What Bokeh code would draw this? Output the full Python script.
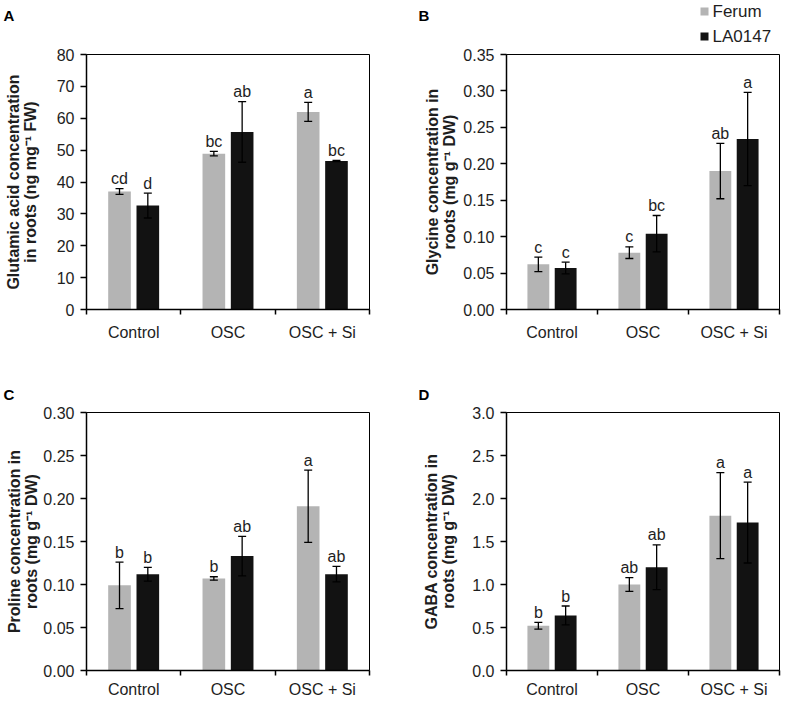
import numpy as np
from bokeh.plotting import figure
from bokeh.models import (ColumnDataSource, FixedTicker, Whisker, TeeHead, Label,
                          NumeralTickFormatter, Range1d)
from bokeh.layouts import row, column
from bokeh.embed import file_html
from bokeh.resources import INLINE
from bokeh.core.properties import value

# ---------------- data ----------------
categories = ["Control", "OSC", "OSC + Si"]
series = ["Ferum", "LA0147"]

# A: glutamic acid (ng mg-1 FW)
glu_ferum = [37.0, 48.9, 62.0]
glu_ferum_err = [0.9, 0.7, 3.0]
glu_la = [32.6, 55.7, 46.6]
glu_la_err = [3.9, 9.5, 0.2]
glu_ferum_letters = ["cd", "bc", "a"]
glu_la_letters = ["d", "ab", "bc"]
glu_ticks = [0, 10, 20, 30, 40, 50, 60, 70, 80]

# B: glycine (mg g-1 DW)
gly_ferum = [0.062, 0.078, 0.190]
gly_ferum_err = [0.010, 0.008, 0.038]
gly_la = [0.057, 0.104, 0.234]
gly_la_err = [0.008, 0.025, 0.064]
gly_ferum_letters = ["c", "c", "ab"]
gly_la_letters = ["c", "bc", "a"]
gly_ticks = [0.00, 0.05, 0.10, 0.15, 0.20, 0.25, 0.30, 0.35]

# C: proline (mg g-1 DW)
pro_ferum = [0.099, 0.107, 0.191]
pro_ferum_err = [0.027, 0.002, 0.042]
pro_la = [0.112, 0.133, 0.112]
pro_la_err = [0.008, 0.023, 0.009]
pro_ferum_letters = ["b", "b", "a"]
pro_la_letters = ["b", "ab", "ab"]
pro_ticks = [0.00, 0.05, 0.10, 0.15, 0.20, 0.25, 0.30]

# D: GABA (mg g-1 DW)
gaba_ferum = [0.52, 1.00, 1.80]
gaba_ferum_err = [0.04, 0.08, 0.50]
gaba_la = [0.64, 1.20, 1.72]
gaba_la_err = [0.11, 0.26, 0.47]
gaba_ferum_letters = ["b", "ab", "a"]
gaba_la_letters = ["b", "ab", "a"]
gaba_ticks = [0.0, 0.5, 1.0, 1.5, 2.0, 2.5, 3.0]

panel_letters = ["A", "B", "C", "D"]

# ---------------- style ----------------
FONT = "Liberation Sans"
GREY = "#b4b4b4"
DARK = "#121212"
TXT = "#1e1e1e"
BAR_W = 0.24
OFFSETS = [-0.15, 0.15]
TOTAL_W = 786


def make_panel(ylabel, ticks, fmt, data, width, height, bl, br, bt, bb, label_standoff,
               x_standoff=9):
    p = figure(width=width, height=height, output_backend="svg", toolbar_location=None,
               x_range=Range1d(0, len(categories)), y_range=Range1d(ticks[0], ticks[-1]),
               min_border_left=bl, min_border_right=br, min_border_top=bt,
               min_border_bottom=bb)
    p.grid.visible = False
    p.outline_line_color = "black"
    p.outline_line_width = 1

    centers = np.arange(len(categories)) + 0.5
    for (vals, errs, labs), off, color in zip(data, OFFSETS, [GREY, DARK]):
        vals = np.array(vals)
        errs = np.array(errs)
        src = ColumnDataSource(dict(x=centers + off, top=vals, upper=vals + errs,
                                    lower=vals - errs, lab=labs))
        p.vbar(x="x", top="top", width=BAR_W, source=src, fill_color=color, line_color=None)
        w = Whisker(source=src, base="x", upper="upper", lower="lower",
                    line_color="black", line_width=1.3, level="overlay",
                    upper_head=TeeHead(size=8, line_color="black", line_width=1.3),
                    lower_head=TeeHead(size=8, line_color="black", line_width=1.3))
        p.add_layout(w)
        p.text(x="x", y="upper", text="lab", source=src, text_align="center",
               text_baseline="alphabetic", y_offset=-10, text_font=value(FONT),
               text_font_size="16px", text_color=TXT)

    # x axis: ticks at category boundaries, labels at centers
    xa = p.xaxis[0]
    xa.ticker = FixedTicker(ticks=list(centers), minor_ticks=list(range(len(categories) + 1)))
    xa.major_label_overrides = {float(c): cat for c, cat in zip(centers, categories)}
    xa.axis_label = None
    xa.axis_label_standoff = 0
    xa.major_tick_out = 0
    xa.major_tick_in = 0
    xa.minor_tick_out = 5
    xa.minor_tick_in = 0
    xa.minor_tick_line_color = "black"
    xa.minor_tick_line_width = 1.5
    xa.axis_line_width = 1.5
    xa.axis_line_color = "black"
    xa.major_label_standoff = x_standoff
    xa.major_label_text_font = FONT
    xa.major_label_text_font_size = "16px"
    xa.major_label_text_color = TXT

    ya = p.yaxis[0]
    ya.ticker = FixedTicker(ticks=ticks, minor_ticks=[])
    ya.formatter = NumeralTickFormatter(format=fmt)
    ya.major_tick_out = 6
    ya.major_tick_in = 0
    ya.minor_tick_out = 0
    ya.minor_tick_in = 0
    ya.major_tick_line_color = "black"
    ya.major_tick_line_width = 1.5
    ya.axis_line_width = 1.5
    ya.axis_line_color = "black"
    ya.major_label_standoff = 6
    ya.major_label_text_font = FONT
    ya.major_label_text_font_size = "16px"
    ya.major_label_text_color = TXT
    ya.axis_label = ylabel
    ya.axis_label_text_font = FONT
    ya.axis_label_text_font_size = "16px"
    ya.axis_label_text_font_style = "bold"
    ya.axis_label_text_color = TXT
    ya.axis_label_text_line_height = 1.0
    ya.axis_label_standoff = label_standoff
    return p


def make_header(height, letters, letter_x, baseline_from_bottom, legend=False):
    # pixel-space strip above a row of panels, carrying panel letters (and the legend)
    h = figure(width=TOTAL_W, height=height, output_backend="svg", toolbar_location=None,
               x_range=Range1d(0, TOTAL_W), y_range=Range1d(0, height),
               x_axis_type=None, y_axis_type=None, min_border=0,
               min_border_left=0, min_border_right=0, min_border_top=0, min_border_bottom=0)
    h.outline_line_color = None
    h.grid.visible = False
    for lt, lx in zip(letters, letter_x):
        h.add_layout(Label(x=lx, y=baseline_from_bottom, text=lt, text_font=FONT,
                           text_font_size="15px", text_font_style="bold",
                           text_baseline="alphabetic", text_color="black"))
    if legend:
        key_x = 704
        key_y = [height - 11, height - 36]
        ksrc = ColumnDataSource(dict(x=[key_x] * len(series), y=key_y,
                                     color=[GREY, DARK], name=series))
        h.rect(x="x", y="y", width=8, height=8, width_units="screen",
               height_units="screen", fill_color="color", line_color=None, source=ksrc)
        h.text(x="x", y="y", text="name", source=ksrc, x_offset=8, text_align="left",
               text_baseline="middle", text_font=value(FONT), text_font_size="17px",
               text_color=TXT)
    return h


hdr1 = make_header(45, panel_letters[:2], [3, 418], 30, legend=True)
pa = make_panel("Glutamic acid concentration\nin roots (ng mg\u207b\u00b9 FW)", glu_ticks, "0",
                [(glu_ferum, glu_ferum_err, glu_ferum_letters), (glu_la, glu_la_err, glu_la_letters)],
                390, 298, 86, 21, 8, 34, 15)
pb = make_panel("Glycine concentration in\nroots (mg g\u207b\u00b9 DW)", gly_ticks, "0.00",
                [(gly_ferum, gly_ferum_err, gly_ferum_letters), (gly_la, gly_la_err, gly_la_letters)],
                396, 298, 116, 7, 9, 30, 2)
hdr2 = make_header(60, panel_letters[2:], [3, 418], 9)
pc = make_panel("Proline concentration in\nroots (mg g\u207b\u00b9 DW)", pro_ticks, "0.00",
                [(pro_ferum, pro_ferum_err, pro_ferum_letters), (pro_la, pro_la_err, pro_la_letters)],
                390, 297, 86, 21, 9, 28, 0, x_standoff=5)
pd_ = make_panel("GABA concentration in\nroots (mg g\u207b\u00b9 DW)", gaba_ticks, "0.0",
                 [(gaba_ferum, gaba_ferum_err, gaba_ferum_letters), (gaba_la, gaba_la_err, gaba_la_letters)],
                 396, 297, 116, 7, 9, 27, 12, x_standoff=5)

layout = column(hdr1, row(pa, pb), hdr2, row(pc, pd_))
open("out.html", "w").write(file_html(layout, INLINE))
